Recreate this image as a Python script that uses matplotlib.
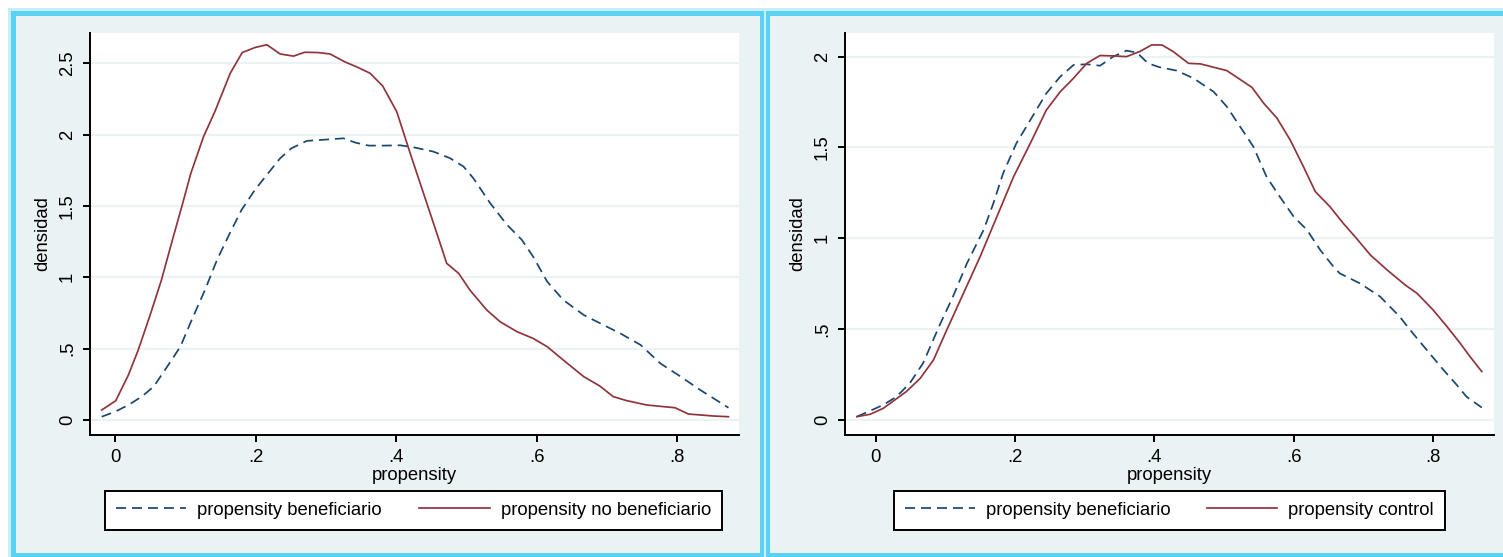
import numpy as np
import matplotlib
matplotlib.use("Agg")
import matplotlib.pyplot as plt
from matplotlib.patches import Rectangle
from matplotlib.lines import Line2D

plt.rcParams['font.family'] = ['Liberation Sans', 'DejaVu Sans']

# --- data (kernel densities of the propensity score) ---
# left panel: beneficiario vs no beneficiario
l_benef_x = [-0.019, 0.0, 0.019, 0.038, 0.055, 0.071, 0.093, 0.109, 0.128, 0.145, 0.161, 0.180,
             0.199, 0.218, 0.235, 0.251, 0.273, 0.294, 0.325, 0.342, 0.361, 0.384, 0.406, 0.425,
             0.453, 0.477, 0.496, 0.510, 0.534, 0.558, 0.579, 0.595, 0.615, 0.638, 0.667, 0.700,
             0.719, 0.748, 0.776, 0.805, 0.833, 0.873]
l_benef_y = [0.023, 0.058, 0.105, 0.164, 0.234, 0.35, 0.514, 0.70, 0.911, 1.12, 1.285, 1.472,
             1.612, 1.73, 1.834, 1.904, 1.956, 1.963, 1.974, 1.944, 1.923, 1.923, 1.925, 1.911,
             1.881, 1.834, 1.776, 1.694, 1.519, 1.367, 1.262, 1.145, 0.970, 0.841, 0.736, 0.654,
             0.607, 0.526, 0.397, 0.304, 0.210, 0.086]
l_nobenef_x = [-0.019, 0.001, 0.019, 0.033, 0.050, 0.066, 0.083, 0.095, 0.108, 0.126, 0.142, 0.164,
               0.181, 0.199, 0.216, 0.235, 0.254, 0.270, 0.289, 0.306, 0.327, 0.346, 0.363, 0.381,
               0.401, 0.420, 0.439, 0.458, 0.472, 0.489, 0.505, 0.529, 0.548, 0.572, 0.595, 0.615,
               0.638, 0.667, 0.690, 0.709, 0.728, 0.757, 0.797, 0.816, 0.852, 0.873]
l_nobenef_y = [0.07, 0.135, 0.315, 0.49, 0.736, 0.98, 1.285, 1.495, 1.73, 1.986, 2.16, 2.43,
               2.575, 2.61, 2.63, 2.565, 2.55, 2.577, 2.575, 2.565, 2.51, 2.47, 2.43, 2.34,
               2.16, 1.87, 1.589, 1.308, 1.098, 1.028, 0.911, 0.771, 0.689, 0.619, 0.572, 0.514,
               0.42, 0.304, 0.238, 0.164, 0.136, 0.105, 0.086, 0.042, 0.028, 0.023]

# right panel: beneficiario vs control
r_benef_x = [-0.027, -0.008, 0.011, 0.030, 0.049, 0.068, 0.092, 0.111, 0.131, 0.155, 0.169, 0.183,
             0.202, 0.222, 0.245, 0.265, 0.284, 0.303, 0.322, 0.341, 0.360, 0.375, 0.391, 0.408,
             0.432, 0.456, 0.485, 0.504, 0.523, 0.542, 0.561, 0.580, 0.600, 0.619, 0.638, 0.657,
             0.666, 0.695, 0.724, 0.752, 0.771, 0.791, 0.815, 0.834, 0.848, 0.870]
r_benef_y = [0.018, 0.05, 0.083, 0.128, 0.202, 0.312, 0.523, 0.679, 0.862, 1.046, 1.193, 1.358,
             1.523, 1.651, 1.798, 1.89, 1.954, 1.958, 1.950, 2.0, 2.033, 2.022, 1.963, 1.941,
             1.923, 1.881, 1.807, 1.725, 1.615, 1.505, 1.339, 1.229, 1.119, 1.046, 0.936, 0.844,
             0.807, 0.752, 0.679, 0.569, 0.477, 0.385, 0.275, 0.193, 0.128, 0.068]
r_control_x = [-0.027, -0.008, 0.011, 0.044, 0.064, 0.083, 0.102, 0.126, 0.150, 0.174, 0.198, 0.222,
               0.245, 0.265, 0.284, 0.303, 0.322, 0.341, 0.360, 0.379, 0.396, 0.411, 0.427, 0.449,
               0.466, 0.504, 0.540, 0.557, 0.576, 0.595, 0.614, 0.631, 0.652, 0.671, 0.690, 0.710,
               0.734, 0.760, 0.777, 0.800, 0.820, 0.839, 0.853, 0.870]
r_control_y = [0.018, 0.031, 0.064, 0.156, 0.229, 0.33, 0.495, 0.697, 0.899, 1.119, 1.339, 1.523,
               1.706, 1.807, 1.881, 1.963, 2.006, 2.004, 2.0, 2.028, 2.064, 2.064, 2.028, 1.963,
               1.960, 1.923, 1.831, 1.743, 1.661, 1.541, 1.394, 1.257, 1.174, 1.083, 1.0, 0.908,
               0.826, 0.743, 0.697, 0.606, 0.514, 0.422, 0.349, 0.266]

x_ticks = [0, 0.2, 0.4, 0.6, 0.8]
x_ticklabels = ["0", ".2", ".4", ".6", ".8"]
l_yticks = [0, 0.5, 1, 1.5, 2, 2.5]
l_yticklabels = ["0", ".5", "1", "1.5", "2", "2.5"]
r_yticks = [0, 0.5, 1, 1.5, 2]
r_yticklabels = ["0", ".5", "1", "1.5", "2"]

l_labels = ["propensity beneficiario", "propensity no beneficiario"]
r_labels = ["propensity beneficiario", "propensity control"]

NAVY = "#1a476f"
MAROON = "#90353b"
BG = "#eaf2f3"
CYAN = "#5ad2f4"
FS = 13.3
LW = 1.25
DASH = (0, (5.8, 3.4))

W, H = 1503, 557
fig = plt.figure(figsize=(W / 100, H / 100), dpi=100, facecolor="white")


def frac(x0, y0, x1, y1):
    # pixel box (top-left origin) -> figure fraction rect
    return (x0 / W, 1 - y1 / H, (x1 - x0) / W, (y1 - y0) / H)


def add_rect(x0, y0, x1, y1, color):
    l, b, w, h = frac(x0, y0, x1, y1)
    fig.patches.append(Rectangle((l, b), w, h, transform=fig.transFigure,
                                 facecolor=color, edgecolor="none", zorder=-5))


# panel backgrounds with the cyan frame
add_rect(8, 8, 766, 560, "#c9eefa")
add_rect(765, 8, 1510, 560, "#c9eefa")
add_rect(11, 11, 764, 560, CYAN)
add_rect(766, 11, 1510, 560, CYAN)
add_rect(16, 16, 760, 553, BG)
add_rect(770, 16, 1510, 553, BG)


def panel(box, xs, ys, yticks, yticklabels, xlim, ylim, labels, leg_box):
    ax = fig.add_axes(frac(*box))
    ax.set_zorder(2)
    ax.set_facecolor("white")
    ax.plot(xs[0], ys[0], color=NAVY, lw=LW, linestyle=DASH)
    ax.plot(xs[1], ys[1], color=MAROON, lw=LW)
    ax.set_xlim(*xlim)
    ax.set_ylim(*ylim)
    ax.set_xticks(x_ticks)
    ax.set_xticklabels(x_ticklabels)
    ax.set_yticks(yticks)
    ax.set_yticklabels(yticklabels, rotation=90, va="center")
    ax.yaxis.grid(True, color=BG, lw=1.5)
    ax.set_axisbelow(True)
    for s in ["top", "right"]:
        ax.spines[s].set_visible(False)
    for s in ["left", "bottom"]:
        ax.spines[s].set_linewidth(1.4)
        ax.spines[s].set_color("black")
    ax.tick_params(length=5, width=1.4, pad=5, labelsize=FS, direction="out")
    ax.set_xlabel("propensity", fontsize=FS, labelpad=1)
    ax.set_ylabel("densidad", fontsize=FS, labelpad=6)

    handles = [Line2D([], [], color=NAVY, lw=LW, linestyle=DASH),
               Line2D([], [], color=MAROON, lw=LW)]
    l, b, w, h = frac(*leg_box)
    leg = fig.legend(handles, labels, loc="lower left", bbox_to_anchor=(l, b, w, h),
                     mode="expand", ncol=2, fontsize=FS, handlelength=3.8,
                     handletextpad=0.6, borderpad=0.6, borderaxespad=0,
                     fancybox=False, framealpha=1, edgecolor="black")
    leg.get_frame().set_linewidth(1.4)
    leg.set_zorder(3)
    return ax


panel((90, 33, 739, 435), (l_benef_x, l_nobenef_x), (l_benef_y, l_nobenef_y),
      l_yticks, l_yticklabels, (-0.0356, 0.888), (-0.105, 2.712), l_labels,
      (105, 490, 722, 530))
panel((845, 33, 1494, 435), (r_benef_x, r_control_x), (r_benef_y, r_control_y),
      r_yticks, r_yticklabels, (-0.044, 0.8875), (-0.083, 2.13), r_labels,
      (894, 490, 1445, 530))

fig.savefig("out.png", dpi=100, facecolor=fig.get_facecolor())
